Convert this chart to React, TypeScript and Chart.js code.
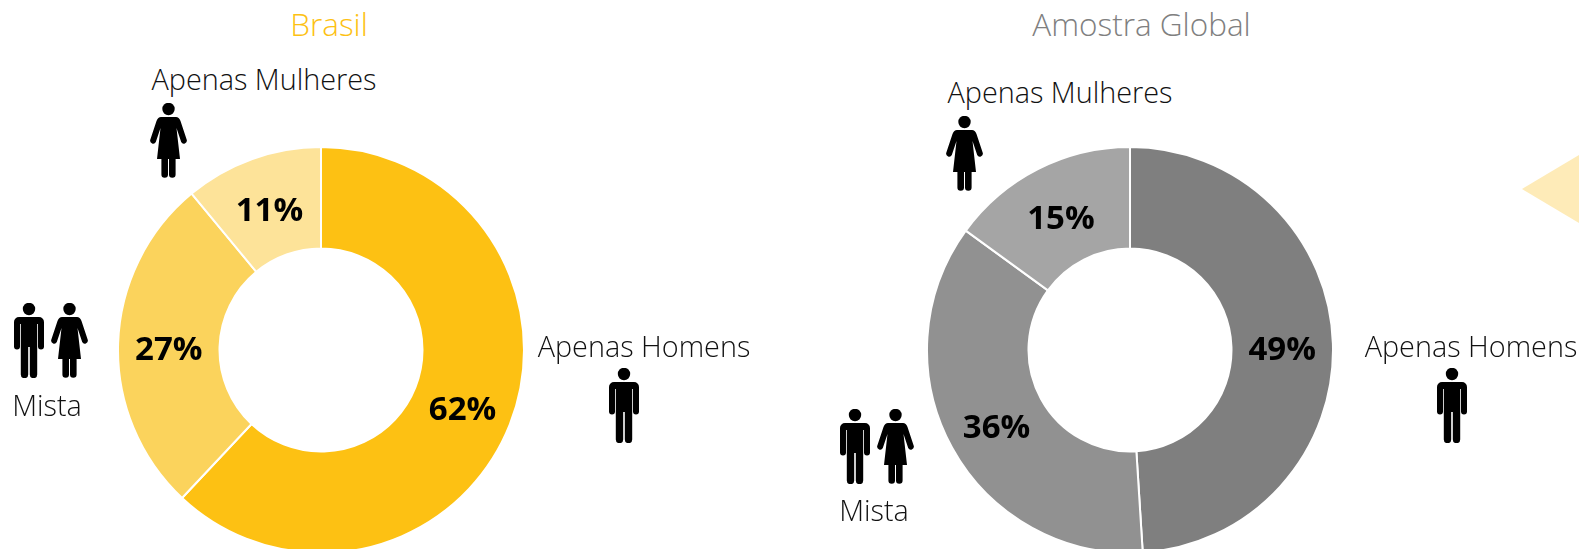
import React, { useEffect, useRef } from "react";
import { Chart, registerables } from "chart.js";

Chart.register(...registerables);

const categories = ["Apenas Homens", "Mista", "Apenas Mulheres"];
const brasilValues = [62, 27, 11];
const globalValues = [49, 36, 15];
const brasilColors = ["#FDC113", "#FBD35C", "#FDE399"];
const globalColors = ["#7F7F7F", "#919191", "#A5A5A5"];

const LIGHT = "'Open Sans', sans-serif";
const BOLD_FONT = "700 33px 'Open Sans', sans-serif";

const percentLabels = {
  id: "percentLabels",
  afterDatasetsDraw(chart: any) {
    const { ctx } = chart;
    const meta = chart.getDatasetMeta(0);
    const values = chart.data.datasets[0].data as number[];
    ctx.save();
    ctx.font = BOLD_FONT;
    ctx.fillStyle = "#000";
    ctx.textAlign = "center";
    ctx.textBaseline = "middle";
    meta.data.forEach((arc: any, i: number) => {
      const p = arc.getCenterPoint();
      ctx.fillText(values[i] + "%", p.x, p.y + 5);
    });
    ctx.restore();
  },
};

function Donut({ values, colors, left, top, size }: any) {
  const ref = useRef<HTMLCanvasElement>(null);
  useEffect(() => {
    const chart = new Chart(ref.current!, {
      type: "doughnut",
      data: {
        labels: categories,
        datasets: [{ data: values, backgroundColor: colors, borderColor: "#fff", borderWidth: 2 }],
      },
      options: {
        animation: false,
        responsive: false,
        cutout: "50%",
        layout: { padding: 0 },
        plugins: { legend: { display: false }, tooltip: { enabled: false } },
      },
      plugins: [percentLabels],
    });
    return () => chart.destroy();
  }, []);
  return (
    <canvas
      ref={ref}
      width={size}
      height={size}
      style={{ position: "absolute", left, top, width: size, height: size }}
    />
  );
}

const MAN =
  "M5 14H25A5 5 0 0 1 30 19V43.5A3 3 0 0 1 24 43.5V21H23.2V71.5A3.7 3.7 0 0 1 15.8 71.5V44H14.2V71.5A3.7 3.7 0 0 1 6.8 71.5V21H6V43.5A3 3 0 0 1 0 43.5V19A5 5 0 0 1 5 14Z";
const WOMAN =
  "M11 14H26Q29 14 30.5 18L36.8 37A3 3 0 0 1 31.2 39L26.5 25L30 56H25.6V71.5A3.3 3.3 0 0 1 19 71.5V56H18V71.5A3.3 3.3 0 0 1 11.4 71.5V56H7L10.5 25L5.8 39A3 3 0 0 1 0.2 37L6.5 18Q8 14 11 14Z";

function Man({ x, y }: { x: number; y: number }) {
  return (
    <svg width={30} height={75} style={{ position: "absolute", left: x, top: y }}>
      <circle cx={15} cy={6} r={6.2} fill="#000" />
      <path d={MAN} fill="#000" />
    </svg>
  );
}
function Woman({ x, y }: { x: number; y: number }) {
  return (
    <svg width={37} height={75} style={{ position: "absolute", left: x, top: y }}>
      <circle cx={18.5} cy={6} r={6.2} fill="#000" />
      <path d={WOMAN} fill="#000" />
    </svg>
  );
}

function Label({ text, cx, cy, color = "#111", size = 28.8 }: any) {
  return (
    <div
      style={{
        position: "absolute",
        left: cx - 200,
        width: 400,
        top: cy - 20,
        height: 40,
        lineHeight: "40px",
        textAlign: "center",
        fontFamily: LIGHT,
        fontWeight: 300,
        fontSize: size,
        color,
        whiteSpace: "nowrap",
      }}
    >
      {text}
    </div>
  );
}

export default function App() {
  useEffect(() => {
    document.body.style.margin = "0";
    document.body.style.overflow = "hidden";
  }, []);
  return (
    <div style={{ position: "relative", width: 1579, height: 549, overflow: "hidden", background: "#fff" }}>
      <svg width={1579} height={549} style={{ position: "absolute", left: 0, top: 0 }}>
        <polygon points="1522,189 1579,155 1579,223" fill="#FEEBB8" />
      </svg>
      <Donut values={brasilValues} colors={brasilColors} left={117} top={146} size={408} />
      <Donut values={globalValues} colors={globalColors} left={926} top={146} size={408} />

      <Label text="Brasil" cx={329} cy={24} color="#FDC113" size={31.5} />
      <Label text="Amostra Global" cx={1141.5} cy={24} color="#808080" size={31.5} />

      <Label text={categories[2]} cx={264} cy={79} />
      <Woman x={150} y={103} />
      <Man x={14} y={303} />
      <Woman x={51} y={303} />
      <Label text={categories[1]} cx={47} cy={405} />
      <Label text={categories[0]} cx={644} cy={346} />
      <Man x={609} y={368} />

      <Label text={categories[2]} cx={1060} cy={92} />
      <Woman x={946} y={116} />
      <Man x={840} y={409} />
      <Woman x={877} y={409} />
      <Label text={categories[1]} cx={874} cy={510} />
      <Label text={categories[0]} cx={1471} cy={346} />
      <Man x={1437} y={368} />
    </div>
  );
}
